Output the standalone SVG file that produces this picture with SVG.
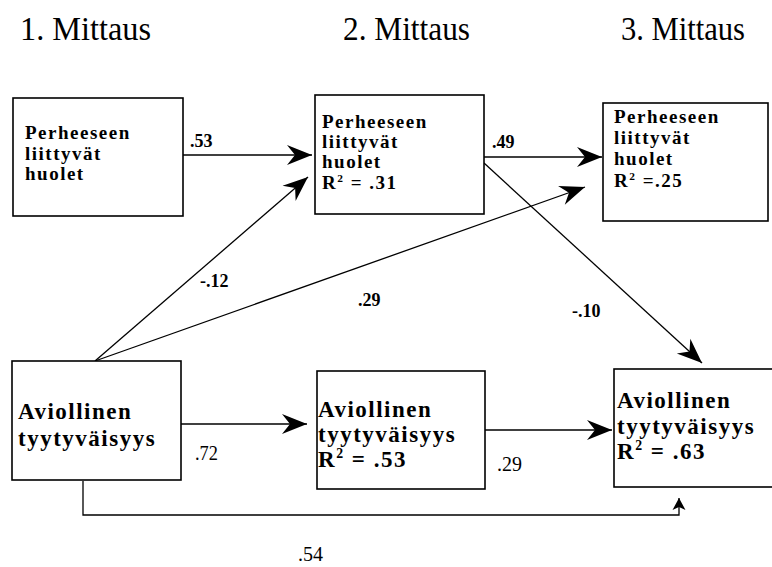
<svg xmlns="http://www.w3.org/2000/svg" width="772" height="567" viewBox="0 0 772 567">
  <style>
    .box { fill: #fff; stroke: #000; stroke-width: 1.6; }
    .serif { font-family: "Liberation Serif", "Times New Roman", "DejaVu Serif", serif; fill: #000; }
    .head { font-size: 33px; font-weight: normal; }
    .lbl { font-size: 19px; font-weight: bold; letter-spacing: 1.5px; }
    .lbl2 { font-size: 23px; font-weight: bold; letter-spacing: 1.5px; }
    .coef { font-size: 18px; font-weight: bold; }
    .coef2 { font-size: 22px; font-weight: normal; }
    .sup { font-size: 60%; }
    .edge { fill: none; stroke: #000; stroke-width: 1.3; }
  </style>
  <defs>
    <marker id="head" markerUnits="userSpaceOnUse" markerWidth="30" markerHeight="24" viewBox="-26 -12 30 24" refX="0" refY="0" orient="auto">
      <path d="M0,0 L-25,-10 L-17,0 L-25,10 Z" fill="#000"/>
    </marker>
    <marker id="headSmall" markerUnits="userSpaceOnUse" markerWidth="16" markerHeight="16" viewBox="-14 -8 16 16" refX="0" refY="0" orient="auto">
      <path d="M0,0 L-12,-6.5 L-9,0 L-12,6.5 Z" fill="#000"/>
    </marker>
  </defs>
  <rect width="772" height="567" fill="#fff"/>

  <!-- column headings -->
  <g id="headings">
    <text class="serif head" x="20" y="40" textLength="131" lengthAdjust="spacingAndGlyphs">1. Mittaus</text>
    <text class="serif head" x="343" y="40" textLength="127" lengthAdjust="spacingAndGlyphs">2. Mittaus</text>
    <text class="serif head" x="621" y="40" textLength="124" lengthAdjust="spacingAndGlyphs">3. Mittaus</text>
  </g>

  <!-- paths between the measures -->
  <g id="connectors">
    <line class="edge" x1="183" y1="155" x2="312" y2="155" marker-end="url(#head)"/>
    <line class="edge" x1="484" y1="157" x2="602" y2="157" marker-end="url(#head)"/>
    <line class="edge" x1="95" y1="361" x2="308" y2="177" marker-end="url(#head)"/>
    <line class="edge" x1="95" y1="361" x2="585" y2="187" marker-end="url(#head)"/>
    <line class="edge" x1="484" y1="163" x2="702" y2="363" marker-end="url(#head)"/>
    <line class="edge" x1="181" y1="424" x2="307" y2="424" marker-end="url(#head)"/>
    <line class="edge" x1="485" y1="430" x2="612" y2="430" marker-end="url(#head)"/>
    <polyline class="edge" points="83,481 83,515 679,515 679,498" marker-end="url(#headSmall)"/>

    <text class="serif coef" x="190" y="147">.53</text>
    <text class="serif coef" x="492" y="148">.49</text>
    <text class="serif coef" x="200" y="287">-.12</text>
    <text class="serif coef" x="358" y="306">.29</text>
    <text class="serif coef" x="572" y="317">-.10</text>
    <text class="serif coef2" x="195" y="460" textLength="23" lengthAdjust="spacingAndGlyphs">.72</text>
    <text class="serif coef2" x="497" y="471" textLength="25" lengthAdjust="spacingAndGlyphs">.29</text>
    <text class="serif coef2" x="298" y="561" textLength="25" lengthAdjust="spacingAndGlyphs">.54</text>
  </g>

  <g id="worry1">
    <rect class="box" x="13" y="98" width="170" height="118"/>
    <text class="serif lbl" x="25" y="139">Perheeseen</text>
    <text class="serif lbl" x="25" y="160">liittyvät</text>
    <text class="serif lbl" x="25" y="180">huolet</text>
  </g>

  <g id="worry2">
    <rect class="box" x="315" y="95" width="169" height="119"/>
    <text class="serif lbl" x="322" y="128">Perheeseen</text>
    <text class="serif lbl" x="322" y="148">liittyvät</text>
    <text class="serif lbl" x="322" y="168">huolet</text>
    <text class="serif lbl" x="322" y="189">R<tspan class="sup" dy="-7">2</tspan><tspan dy="7"> = .31</tspan></text>
  </g>

  <g id="worry3">
    <rect class="box" x="603" y="103" width="165" height="118"/>
    <text class="serif lbl" x="614" y="123">Perheeseen</text>
    <text class="serif lbl" x="614" y="144">liittyvät</text>
    <text class="serif lbl" x="614" y="165">huolet</text>
    <text class="serif lbl" x="614" y="187">R<tspan class="sup" dy="-7">2</tspan><tspan dy="7"> =.25</tspan></text>
  </g>

  <g id="marital1">
    <rect class="box" x="12" y="361" width="169" height="119"/>
    <text class="serif lbl2" x="18" y="419">Aviollinen</text>
    <text class="serif lbl2" x="18" y="446">tyytyväisyys</text>
  </g>

  <g id="marital2">
    <rect class="box" x="317" y="371" width="168" height="118"/>
    <text class="serif lbl2" x="318" y="417">Aviollinen</text>
    <text class="serif lbl2" x="318" y="442">tyytyväisyys</text>
    <text class="serif lbl2" x="318" y="467">R<tspan class="sup" dy="-9">2</tspan><tspan dy="9"> = .53</tspan></text>
  </g>

  <g id="marital3">
    <rect class="box" x="614" y="369" width="175" height="118"/>
    <text class="serif lbl2" x="617" y="408">Aviollinen</text>
    <text class="serif lbl2" x="617" y="434">tyytyväisyys</text>
    <text class="serif lbl2" x="617" y="459">R<tspan class="sup" dy="-9">2</tspan><tspan dy="9"> = .63</tspan></text>
  </g>
</svg>
